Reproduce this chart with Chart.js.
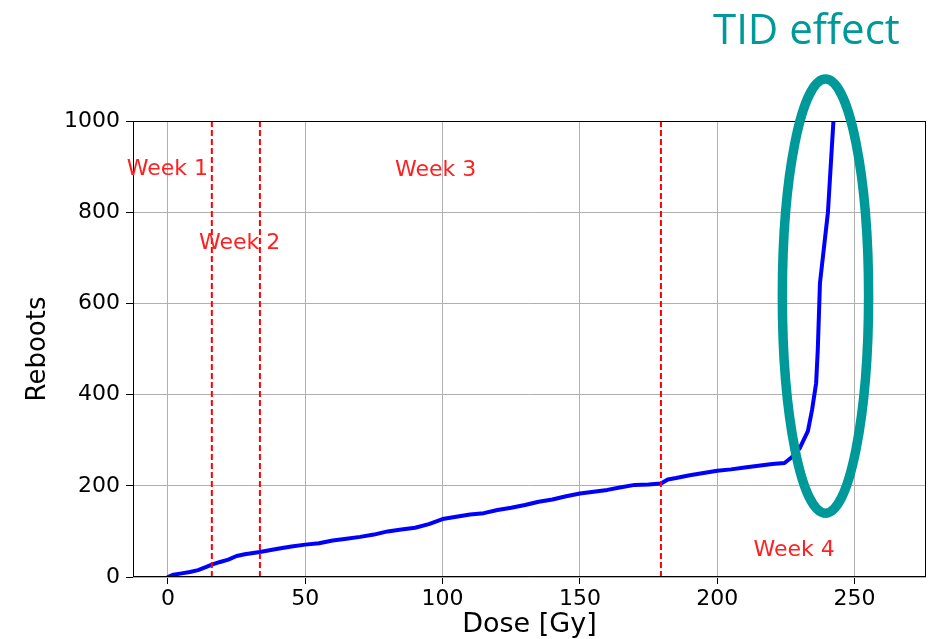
<!DOCTYPE html>
<html lang="en">
<head>
  <meta charset="UTF-8">
  <title>Reboots vs Dose</title>
  <script src="https://cdn.jsdelivr.net/npm/chart.js"></script>
  <style>
    body { margin: 0; background: #fff; }
    #box { width: 933px; height: 639px; }
  </style>
</head>
<body>
  <div id="box">
    <canvas id="chartReboots"></canvas>
  </div>

<script>
  // dados
  const doseGy = [0, 2, 5, 8, 11, 14, 16, 19, 22, 25, 28, 33.5, 40, 45, 50, 55, 60, 65, 70, 75, 80, 85, 90, 95, 100,
    105, 110, 115, 120, 125, 130, 135, 140, 145, 150, 155, 160, 165, 170, 175, 179.5, 182, 185, 190, 195, 200,
    205, 210, 215, 220, 224.5, 227, 230, 233, 234.5, 236, 236.6, 237.4, 240.3, 242.3];
  const reboots = [0, 5, 8, 11, 15, 22, 27, 33, 38, 46, 50, 55, 62, 67, 71, 74, 80, 84, 88, 93, 100, 104, 108, 116, 127,
    132, 137, 140, 147, 152, 158, 165, 170, 177, 183, 187, 191, 197, 202, 203, 205, 214, 217, 223, 228, 233,
    236, 240, 244, 248, 250, 262, 282, 320, 366, 425, 498, 645, 800, 1000];

  const weekLines = [16, 33.5, 179.5];
  const weekTexts = ['Week 1', 'Week 2', 'Week 3', 'Week 4'];
  const weekTextX = [-15, 11.3, 82.7, 213.2];
  const weekTextY = [882, 719, 879, 45];

  const xTicks = [0, 50, 100, 150, 200, 250];
  const yTicks = [0, 200, 400, 600, 800, 1000];

  // elipse "TID effect" (centro e raios em unidades dos eixos)
  const tidCenter = [239.4, 616];
  const tidRadius = [15.7, 476];

  const fonte = "'DejaVu Sans', sans-serif";

  const linhasSemana = weekLines.map(v => ({
    data: [{ x: v, y: yTicks[0] }, { x: v, y: yTicks[yTicks.length - 1] }],
    borderColor: '#ff0000',
    borderWidth: 2,
    borderDash: [6, 3],
    pointRadius: 0,
    order: 0
  }));

  const extras = {
    id: 'extras',
    afterDatasetsDraw(chart) {
      const { ctx, chartArea: a, scales: { x, y } } = chart;
      ctx.save();

      // moldura
      ctx.strokeStyle = '#000';
      ctx.lineWidth = 1;
      ctx.strokeRect(a.left + 0.5, a.top + 0.5, a.right - a.left - 1, a.bottom - a.top - 1);

      // textos das semanas
      ctx.fillStyle = '#ff2020';
      ctx.font = "22px " + fonte;
      ctx.textAlign = 'left';
      ctx.textBaseline = 'alphabetic';
      weekTexts.forEach((t, i) => {
        ctx.fillText(t, x.getPixelForValue(weekTextX[i]), y.getPixelForValue(weekTextY[i]));
      });

      // elipse
      const cx = x.getPixelForValue(tidCenter[0]);
      const cy = y.getPixelForValue(tidCenter[1]);
      const rx = Math.abs(x.getPixelForValue(tidCenter[0] + tidRadius[0]) - cx);
      const ry = Math.abs(y.getPixelForValue(tidCenter[1] + tidRadius[1]) - cy);
      ctx.strokeStyle = '#009999';
      ctx.lineWidth = 9.5;
      ctx.beginPath();
      ctx.ellipse(cx, cy, rx, ry, 0, 0, Math.PI * 2);
      ctx.stroke();

      // titulo
      ctx.fillStyle = '#009999';
      ctx.font = "42px 'Open Sans', sans-serif";
      ctx.fillText('TID effect', 713, 44);

      ctx.restore();
    }
  };

  new Chart(document.getElementById('chartReboots'), {
    type: 'line',
    data: {
      datasets: [{
        data: doseGy.map((d, i) => ({ x: d, y: reboots[i] })),
        borderColor: '#0000ff',
        borderWidth: 4,
        pointRadius: 0,
        tension: 0,
        borderJoinStyle: 'round',
        borderCapStyle: 'round',
        order: 1
      }, ...linhasSemana]
    },
    options: {
      responsive: true,
      maintainAspectRatio: false,
      animation: false,
      layout: { padding: { top: 121, right: 7, left: 0, bottom: 0 } },
      plugins: { legend: { display: false }, tooltip: { enabled: false } },
      scales: {
        x: {
          type: 'linear',
          min: -12.7,
          max: 276,
          afterFit: s => { s.height = 62; },
          afterBuildTicks: s => { s.ticks = xTicks.map(v => ({ value: v })); },
          ticks: { color: '#000', font: { family: fonte, size: 22 }, padding: 2, maxRotation: 0, callback: v => String(v) },
          grid: { color: '#b0b0b0', lineWidth: 1, tickColor: '#000', tickLength: 7 },
          border: { display: false },
          title: {
            display: true, text: 'Dose [Gy]', color: '#000',
            font: { family: fonte, size: 27, lineHeight: 1 }, padding: { top: 0, bottom: 1 }
          }
        },
        y: {
          type: 'linear',
          min: 0,
          max: 1000,
          afterFit: s => { s.width = 133; },
          afterBuildTicks: s => { s.ticks = yTicks.map(v => ({ value: v })); },
          ticks: { color: '#000', font: { family: fonte, size: 22 }, padding: 6, callback: v => String(v) },
          grid: { color: '#b0b0b0', lineWidth: 1, tickColor: '#000', tickLength: 7 },
          border: { display: false },
          title: {
            display: true, text: 'Reboots', color: '#000',
            font: { family: fonte, size: 26, lineHeight: 1 }, padding: { top: 25, bottom: 0 }
          }
        }
      }
    },
    plugins: [extras]
  });
</script>
</body>
</html>
